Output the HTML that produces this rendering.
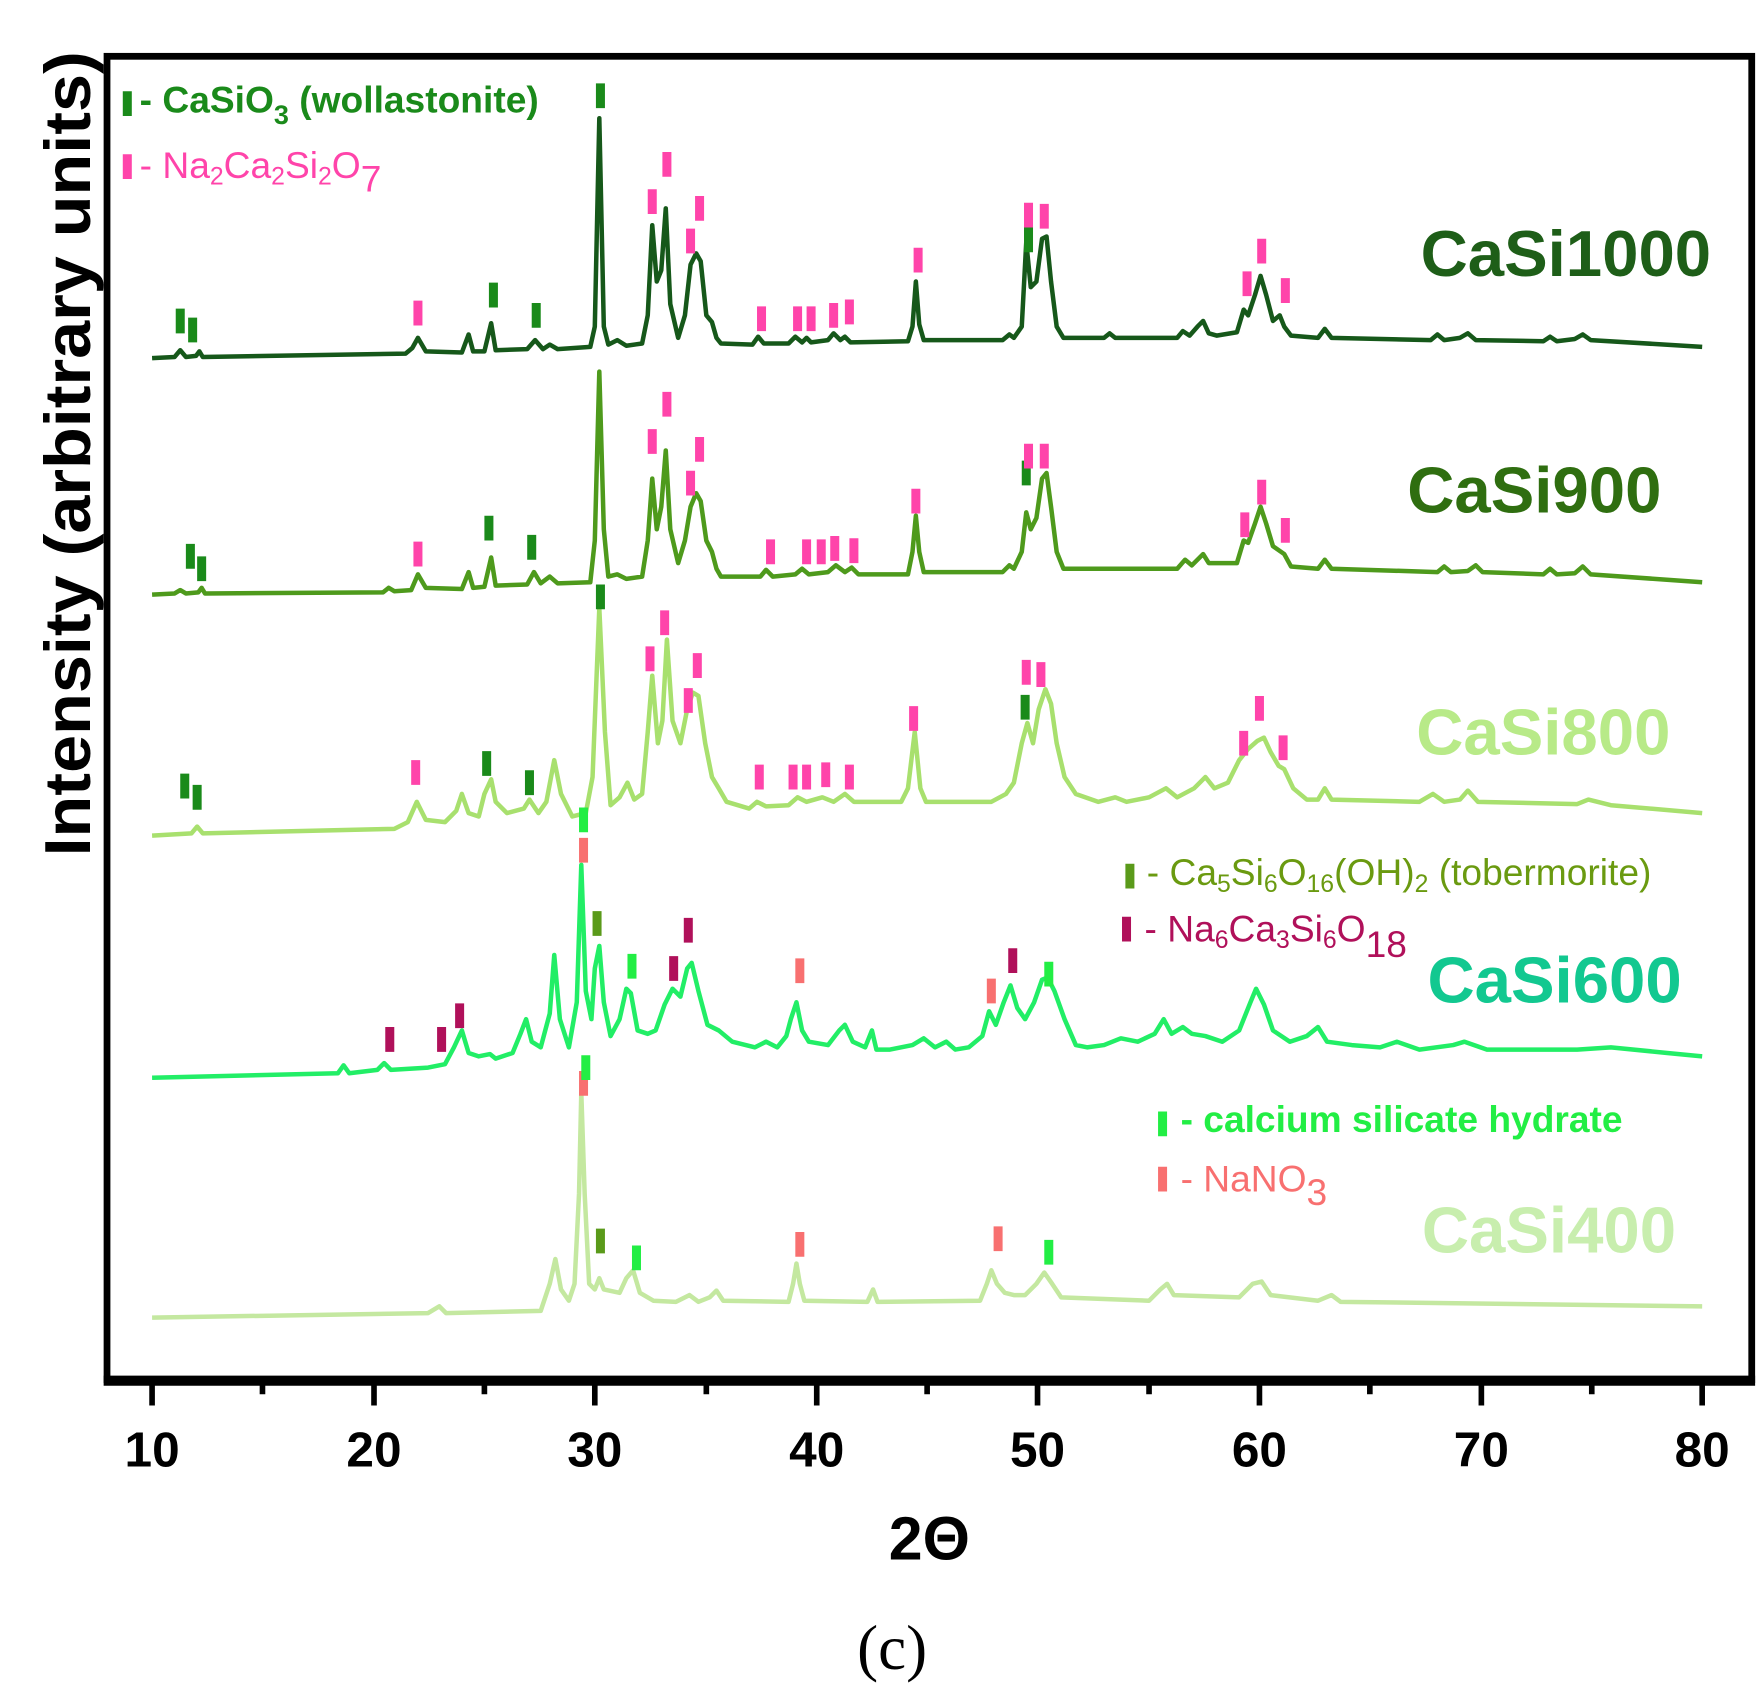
<!DOCTYPE html>
<html><head><meta charset="utf-8"><style>
html,body{margin:0;padding:0;background:#fff;}
svg{display:block;}
text{font-family:"Liberation Sans",Arial,sans-serif;}
</style></head><body>
<svg width="1763" height="1696" viewBox="0 0 1565 1506" preserveAspectRatio="none" xmlns="http://www.w3.org/2000/svg">
<rect x="0" y="0" width="1565" height="1506" fill="#fff"/>
<g fill="none" stroke-width="4" stroke-linejoin="round">
<path stroke="#16581a" d="M135 318 L155 317 L160 311 L165 317 L174 316 L177 312 L180 317 L360 314 L366 309 L371 300 L378 312 L410 313 L416 297 L420 312 L430 312 L436 287 L440 311 L468 310 L475 302 L482 310 L488 306 L495 310 L524 308 L528 290 L532 105 L536 290 L540 306 L548 302 L556 307 L570 305 L575 280 L579 200 L583 250 L587 240 L591 185 L595 270 L602 300 L608 280 L613 235 L618 225 L622 232 L627 280 L632 286 L636 300 L640 305 L668 306 L673 299 L678 305 L700 305 L706 299 L712 304 L716 300 L720 304 L735 302 L740 296 L746 302 L750 299 L755 304 L806 303 L810 290 L813 250 L816 288 L820 302 L890 302 L896 297 L900 300 L907 290 L911 215 L915 255 L920 250 L925 212 L929 210 L933 250 L938 290 L944 300 L980 300 L985 296 L990 300 L1045 300 L1050 294 L1056 298 L1063 290 L1068 285 L1073 296 L1080 298 L1098 295 L1104 275 L1108 280 L1114 262 L1119 245 L1124 262 L1130 285 L1136 280 L1140 290 L1146 298 L1170 300 L1176 292 L1182 300 L1270 302 L1276 297 L1282 302 L1296 300 L1303 296 L1310 302 L1370 303 L1376 299 L1382 303 L1398 301 L1405 297 L1412 302 L1511 308"/>
<path stroke="#4e9a1c" d="M135 528 L155 527 L160 524 L165 527 L176 526 L179 522 L182 527 L340 526 L345 522 L350 525 L365 524 L371 510 L378 522 L410 523 L416 508 L420 522 L430 521 L436 495 L440 520 L468 519 L474 508 L480 518 L488 512 L495 518 L524 517 L528 480 L532 330 L536 470 L540 512 L548 510 L556 514 L570 512 L575 480 L579 425 L583 470 L587 450 L591 400 L595 470 L602 500 L608 480 L613 450 L618 438 L622 445 L627 480 L632 490 L636 505 L640 512 L675 512 L680 506 L686 512 L706 510 L712 505 L718 510 L735 508 L742 502 L750 508 L756 504 L762 510 L806 510 L810 490 L813 458 L816 490 L820 508 L890 508 L896 502 L900 505 L907 490 L911 455 L915 470 L920 460 L925 425 L929 420 L933 450 L938 490 L944 505 L1045 505 L1052 497 L1058 502 L1068 492 L1073 500 L1098 500 L1104 480 L1108 482 L1114 465 L1119 450 L1124 465 L1130 485 L1140 492 L1146 503 L1170 505 L1176 497 L1182 505 L1276 508 L1282 503 L1288 508 L1303 507 L1310 502 L1316 508 L1370 510 L1376 505 L1382 510 L1398 509 L1405 503 L1412 510 L1511 517"/>
<path stroke="#a8e06e" d="M135 742 L170 740 L175 734 L180 740 L350 736 L362 730 L370 712 L378 728 L395 730 L405 720 L410 705 L416 722 L425 725 L430 705 L436 692 L440 712 L450 722 L465 718 L470 710 L478 722 L485 712 L492 675 L498 705 L508 725 L520 722 L526 690 L532 540 L537 650 L542 715 L550 708 L557 695 L563 710 L570 705 L575 650 L579 600 L584 660 L588 640 L592 568 L597 640 L604 660 L610 630 L615 615 L620 618 L626 660 L632 690 L638 700 L645 712 L665 718 L672 712 L680 716 L700 715 L708 708 L716 712 L730 708 L740 712 L750 705 L758 712 L800 712 L806 700 L812 650 L817 700 L822 712 L880 712 L893 705 L900 695 L907 660 L912 642 L917 660 L922 630 L928 612 L933 625 L938 660 L945 690 L955 705 L975 712 L990 708 L1000 712 L1020 708 L1035 700 L1045 708 L1060 700 L1070 690 L1078 700 L1090 695 L1100 675 L1108 665 L1116 658 L1122 655 L1128 668 L1135 680 L1140 683 L1148 700 L1160 710 L1170 710 L1176 700 L1182 710 L1260 712 L1272 705 L1282 712 L1296 710 L1303 702 L1312 712 L1400 714 L1410 710 L1430 715 L1511 722"/>
<path stroke="#22ee66" d="M135 957 L300 953 L305 946 L310 953 L335 950 L341 944 L347 950 L380 948 L395 945 L403 930 L410 915 L416 935 L425 938 L435 936 L440 940 L455 935 L462 918 L467 905 L472 925 L480 930 L488 900 L492 848 L497 905 L505 930 L512 890 L516 768 L520 880 L525 905 L528 860 L532 840 L536 890 L542 920 L550 905 L556 878 L560 882 L566 915 L575 918 L582 915 L590 892 L597 878 L604 885 L610 860 L614 855 L620 880 L628 910 L638 915 L650 925 L670 930 L680 925 L690 930 L698 920 L702 905 L707 890 L712 915 L718 925 L735 928 L745 915 L750 910 L757 925 L768 930 L774 915 L778 932 L790 932 L810 928 L820 922 L830 930 L840 925 L848 932 L860 930 L872 920 L878 898 L884 910 L891 890 L897 875 L903 895 L910 905 L918 890 L925 870 L930 868 L936 880 L945 905 L955 928 L965 930 L980 928 L995 922 L1010 925 L1025 918 L1033 905 L1040 918 L1050 912 L1058 918 L1070 920 L1085 925 L1100 915 L1110 890 L1115 878 L1122 892 L1130 915 L1145 925 L1160 920 L1170 912 L1178 925 L1200 928 L1225 930 L1240 925 L1260 932 L1290 928 L1300 925 L1320 932 L1400 932 L1430 930 L1480 935 L1511 938"/>
<path stroke="#c4e8a0" d="M135 1170 L380 1166 L390 1160 L396 1166 L480 1164 L488 1140 L493 1118 L498 1145 L505 1155 L510 1140 L514 1060 L516 970 L519 1060 L523 1140 L528 1145 L532 1135 L536 1145 L550 1148 L556 1135 L562 1128 L568 1148 L580 1155 L600 1156 L612 1150 L620 1156 L630 1152 L636 1146 L642 1155 L700 1156 L704 1140 L707 1122 L710 1140 L714 1155 L770 1156 L775 1145 L779 1156 L870 1155 L876 1140 L880 1128 L885 1140 L892 1148 L900 1150 L910 1150 L920 1140 L927 1130 L934 1140 L942 1152 L1020 1155 L1030 1145 L1036 1140 L1042 1150 L1100 1152 L1112 1140 L1120 1138 L1128 1150 L1170 1155 L1182 1150 L1190 1156 L1511 1160"/>
</g>
<g fill="none" stroke-width="8">
<path stroke="#1a8a1a" d="M113 81v22 M160 274v22 M171 282v22 M438 251v22 M476 269v22 M533 74v22 M913 202v22 M169 483v22 M179 494v22 M434 458v22 M472 475v22 M911 409v22 M533 519v22 M164 687v22 M175 697v22 M432 667v22 M470 684v22 M910 617v22"/>
<path stroke="#ff44aa" d="M113 137v22 M371 267v22 M579 168v22 M592 135v22 M613 203v22 M621 174v22 M676 272v22 M708 272v22 M720 272v22 M740 269v22 M754 266v22 M815 220v22 M913 180v22 M927 181v22 M1107 241v22 M1120 212v22 M1141 247v22 M371 481v22 M579 381v22 M592 348v22 M613 418v22 M621 388v22 M684 479v22 M716 479v22 M729 479v22 M741 476v22 M758 478v22 M813 434v22 M913 394v22 M927 394v22 M1105 455v22 M1120 426v22 M1141 460v22 M369 675v22 M577 574v22 M590 542v22 M611 611v22 M619 580v22 M674 679v22 M704 679v22 M716 679v22 M733 677v22 M754 679v22 M811 627v22 M911 586v22 M924 588v22 M1104 649v22 M1118 618v22 M1139 653v22"/>
<path stroke="#5a9a1a" d="M530 809v22 M533 1091v22 M1003 767v22"/>
<path stroke="#b0105a" d="M346 912v22 M392 912v22 M408 891v22 M598 849v22 M611 815v22 M899 842v22 M1000 814v22"/>
<path stroke="#f87070" d="M518 744v22 M710 851v22 M880 869v22 M518 951v22 M710 1094v22 M886 1089v22 M1032 1036v22"/>
<path stroke="#22ee44" d="M518 717v22 M561 847v22 M931 854v22 M520 937v22 M565 1106v22 M931 1101v22 M1032 987v22"/>
</g>
<rect x="95" y="50" width="1460" height="1175" fill="none" stroke="#000" stroke-width="6"/>
<line x1="92" y1="1226" x2="1558" y2="1226" stroke="#000" stroke-width="9"/>
<path stroke="#000" stroke-width="5" d="M135 1226v22 M233 1226v12 M332 1226v22 M430 1226v12 M528 1226v22 M627 1226v12 M725 1226v22 M823 1226v12 M921 1226v22 M1020 1226v12 M1118 1226v22 M1216 1226v12 M1315 1226v22 M1413 1226v12 M1511 1226v22"/>
<g font-weight="bold" font-size="44" text-anchor="middle" fill="#000">
<text x="135" y="1302">10</text><text x="332" y="1302">20</text><text x="528" y="1302">30</text>
<text x="725" y="1302">40</text><text x="921" y="1302">50</text><text x="1118" y="1302">60</text>
<text x="1315" y="1302">70</text><text x="1511" y="1302">80</text>
</g>
<text x="825" y="1385" font-size="54" font-weight="bold" text-anchor="middle">2Θ</text>
<text x="792" y="1482" font-size="56" text-anchor="middle" style="font-family:'Liberation Serif',serif">(c)</text>
<text transform="translate(80,403) rotate(-90)" font-size="58" font-weight="bold" text-anchor="middle" textLength="715" lengthAdjust="spacingAndGlyphs">Intensity (arbitrary units)</text>
<g font-weight="bold" font-size="58" text-anchor="middle">
<text x="1390" y="245" fill="#1e5e18">CaSi1000</text>
<text x="1362" y="455" fill="#2f6e10">CaSi900</text>
<text x="1370" y="670" fill="#b8ea88">CaSi800</text>
<text x="1380" y="890" fill="#12c890">CaSi600</text>
<text x="1375" y="1112" fill="#c8eeae">CaSi400</text>
</g>
<g font-size="33">
<text x="124" y="100" fill="#1a8a1a" font-weight="bold">- CaSiO<tspan font-size="24" dy="10">3</tspan><tspan dy="-10"> (wollastonite)</tspan></text>
<text x="124" y="158" fill="#ff44aa">- Na<tspan font-size="22" dy="6">2</tspan><tspan dy="-6">Ca</tspan><tspan font-size="22" dy="6">2</tspan><tspan dy="-6">Si</tspan><tspan font-size="22" dy="6">2</tspan><tspan dy="-6">O</tspan><tspan font-size="33" dy="12">7</tspan></text>
<text x="1018" y="786" fill="#6a9a10">- Ca<tspan font-size="22" dy="6">5</tspan><tspan dy="-6">Si</tspan><tspan font-size="22" dy="6">6</tspan><tspan dy="-6">O</tspan><tspan font-size="22" dy="6">16</tspan><tspan dy="-6">(OH)</tspan><tspan font-size="22" dy="6">2</tspan><tspan dy="-6"> (tobermorite)</tspan></text>
<text x="1016" y="836" fill="#b0105a">- Na<tspan font-size="22" dy="6">6</tspan><tspan dy="-6">Ca</tspan><tspan font-size="22" dy="6">3</tspan><tspan dy="-6">Si</tspan><tspan font-size="22" dy="6">6</tspan><tspan dy="-6">O</tspan><tspan font-size="33" dy="14">18</tspan></text>
<text x="1048" y="1005" fill="#22ee44" font-weight="bold">- calcium silicate hydrate</text>
<text x="1048" y="1058" fill="#f87070">- NaNO<tspan font-size="33" dy="12">3</tspan></text>
</g>
</svg>
</body></html>
